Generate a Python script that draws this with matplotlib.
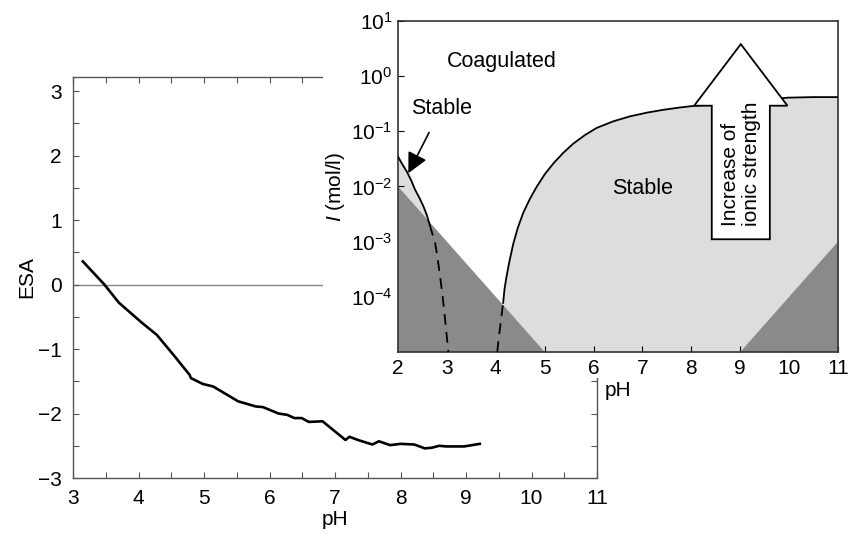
import numpy as np
import matplotlib
matplotlib.use('Agg')
import matplotlib.pyplot as plt
from matplotlib.patches import Polygon, Rectangle
from matplotlib.ticker import MultipleLocator, NullLocator

plt.rcParams['font.family'] = ['Liberation Sans', 'DejaVu Sans']
plt.rcParams['mathtext.fontset'] = 'custom'
plt.rcParams['mathtext.rm'] = 'Liberation Sans'
plt.rcParams['mathtext.it'] = 'Liberation Sans:italic'

# ESA titration curve
esa_ph = [3.15, 3.48, 3.70, 4.05, 4.28, 4.55, 4.78, 4.80, 4.98, 5.14, 5.52, 5.79,
          5.90, 6.14, 6.27, 6.38, 6.49, 6.60, 6.81, 7.16, 7.22, 7.35, 7.57, 7.67,
          7.84, 8.00, 8.21, 8.37, 8.48, 8.59, 8.70, 8.97, 9.21]
esa_val = [0.36, 0.0, -0.28, -0.59, -0.78, -1.11, -1.40, -1.45, -1.54, -1.58, -1.81, -1.89,
           -1.90, -2.00, -2.02, -2.07, -2.07, -2.13, -2.12, -2.41, -2.36, -2.41, -2.48, -2.43,
           -2.49, -2.47, -2.48, -2.54, -2.53, -2.50, -2.51, -2.51, -2.47]

# stability diagram, boundaries as (pH, log10 I)
left_solid_ph = [2.0, 2.09, 2.18, 2.27, 2.35, 2.44, 2.52, 2.59, 2.65]
left_solid_logi = [-1.46, -1.60, -1.73, -1.89, -2.06, -2.21, -2.36, -2.52, -2.70]
left_dash_ph = [2.65, 2.70, 2.76, 2.81, 2.86, 2.91, 2.95, 2.99, 3.03]
left_dash_logi = [-2.70, -2.85, -3.03, -3.30, -3.63, -3.97, -4.30, -4.65, -5.0]
right_dash_ph = [4.03, 4.06, 4.09, 4.12, 4.15]
right_dash_logi = [-5.0, -4.75, -4.54, -4.32, -4.11]
right_solid_ph = [4.15, 4.18, 4.22, 4.28, 4.36, 4.45, 4.56, 4.70, 4.84, 5.00, 5.18, 5.38,
                  5.59, 5.82, 6.06, 6.40, 6.74, 7.10, 7.43, 7.75, 8.04, 9.0, 9.98, 10.5, 11.0]
right_solid_logi = [-4.11, -3.85, -3.63, -3.35, -3.03, -2.75, -2.48, -2.22, -2.00, -1.78,
                    -1.58, -1.39, -1.22, -1.07, -0.94, -0.82, -0.73, -0.66, -0.61, -0.57,
                    -0.54, -0.46, -0.39, -0.38, -0.38]
acid_tri_ph = [2, 2, 5]
acid_tri_logi = [-5, -2, -5]
base_tri_ph = [9, 11, 11]
base_tri_logi = [-5, -3, -5]

LIGHT = '#dddddd'
DARK = '#8a8a8a'
I_MIN = 1e-5

fig = plt.figure(figsize=(8.49, 5.35), dpi=100)

# ---- main ESA plot
ax = fig.add_axes([0.086, 0.1065, 0.6172, 0.7495])
ax.axhline(0, color='#888888', lw=1.0, zorder=1)
ax.plot(esa_ph, esa_val, color='black', lw=1.9, zorder=3)
ax.set_xlim(3, 11)
ax.set_ylim(-3, 3.22)
ax.xaxis.set_major_locator(MultipleLocator(1))
ax.xaxis.set_minor_locator(MultipleLocator(0.5))
ax.yaxis.set_major_locator(MultipleLocator(1))
ax.yaxis.set_minor_locator(MultipleLocator(0.5))
ax.tick_params(which='both', direction='in', top=True, right=True, length=4,
               width=0.8, color='#555555')
ax.tick_params(axis='x', labelsize=15, pad=8)
ax.tick_params(axis='y', labelsize=15, pad=8)
for sp in ax.spines.values():
    sp.set_color('#555555')
    sp.set_linewidth(1.0)
ax.set_xlabel('pH', fontsize=15, labelpad=1)
ax.set_ylabel('ESA', fontsize=15, labelpad=1)

# white backing behind the inset
fig.add_artist(Rectangle((0.3804, 0.2935), 0.63, 0.71, transform=fig.transFigure,
                         facecolor='white', edgecolor='none', zorder=1))

# ---- inset stability diagram
ax2 = fig.add_axes([0.4688, 0.3421, 0.5183, 0.6187], zorder=2)
ax2.set_yscale('log')

left_ph = np.array(left_solid_ph + left_dash_ph[1:])
left_i = 10 ** np.array(left_solid_logi + left_dash_logi[1:])
right_ph = np.array(right_dash_ph + right_solid_ph[1:])
right_i = 10 ** np.array(right_dash_logi + right_solid_logi[1:])

ax2.fill_between(left_ph, I_MIN, left_i, color=LIGHT, lw=0, zorder=1)
ax2.fill_between(right_ph, I_MIN, right_i, color=LIGHT, lw=0, zorder=1)
ax2.fill(acid_tri_ph, 10 ** np.array(acid_tri_logi, float), color=DARK, lw=0, zorder=2)
ax2.fill(base_tri_ph, 10 ** np.array(base_tri_logi, float), color=DARK, lw=0, zorder=2)

ax2.plot(left_solid_ph, 10 ** np.array(left_solid_logi), color='black', lw=1.3, zorder=3)
ax2.plot(left_dash_ph, 10 ** np.array(left_dash_logi), color='black', lw=1.3,
         dashes=(6, 4), zorder=3)
ax2.plot(right_dash_ph, 10 ** np.array(right_dash_logi), color='black', lw=1.3,
         dashes=(6, 4), zorder=3)
ax2.plot(right_solid_ph, 10 ** np.array(right_solid_logi), color='black', lw=1.3, zorder=3)

# big outlined arrow
c = 0.779
arrow_xy = [(c - 0.066, 0.3405), (c + 0.066, 0.3405), (c + 0.066, 0.744), (c + 0.106, 0.744),
            (c, 0.93), (c - 0.106, 0.744), (c - 0.066, 0.744)]
ax2.add_patch(Polygon(arrow_xy, closed=True, transform=ax2.transAxes, facecolor='white',
                      edgecolor='black', lw=1.3, zorder=4))
ax2.text(c, 0.57, 'Increase of\nionic strength', transform=ax2.transAxes, rotation=90,
         ha='center', va='center', multialignment='left', fontsize=15, zorder=5,
         linespacing=1.15)

ax2.text(4.12, 10 ** 0.26, 'Coagulated', ha='center', va='center', fontsize=15.5, zorder=5)
ax2.text(7.0, 10 ** -2.03, 'Stable', ha='center', va='center', fontsize=15.5, zorder=5)
ax2.annotate('Stable', xy=(2.21, 10 ** -1.76), xytext=(2.89, 10 ** -0.58),
             ha='center', va='center', fontsize=15.5, zorder=5,
             arrowprops=dict(arrowstyle='-|>,head_length=0.8,head_width=0.4',
                             color='black', lw=1.2, shrinkA=9, shrinkB=0))

ax2.set_xlim(2, 11)
ax2.set_ylim(I_MIN, 10)
ax2.set_xticks(range(2, 12))
ax2.set_yticks([1e-4, 1e-3, 1e-2, 1e-1, 1e0, 1e1])
ax2.yaxis.set_minor_locator(NullLocator())
ax2.tick_params(which='both', direction='in', length=4, width=0.8, labelsize=15)
ax2.tick_params(axis='x', pad=5)
ax2.tick_params(axis='y', pad=4)
for sp in ax2.spines.values():
    sp.set_color('#333333')
    sp.set_linewidth(1.2)
ax2.set_xlabel('pH', fontsize=15, labelpad=2)
ax2.set_ylabel(r'$\mathit{I}$ (mol/l)', fontsize=15, labelpad=3)

fig.savefig('out.png', dpi=100)
